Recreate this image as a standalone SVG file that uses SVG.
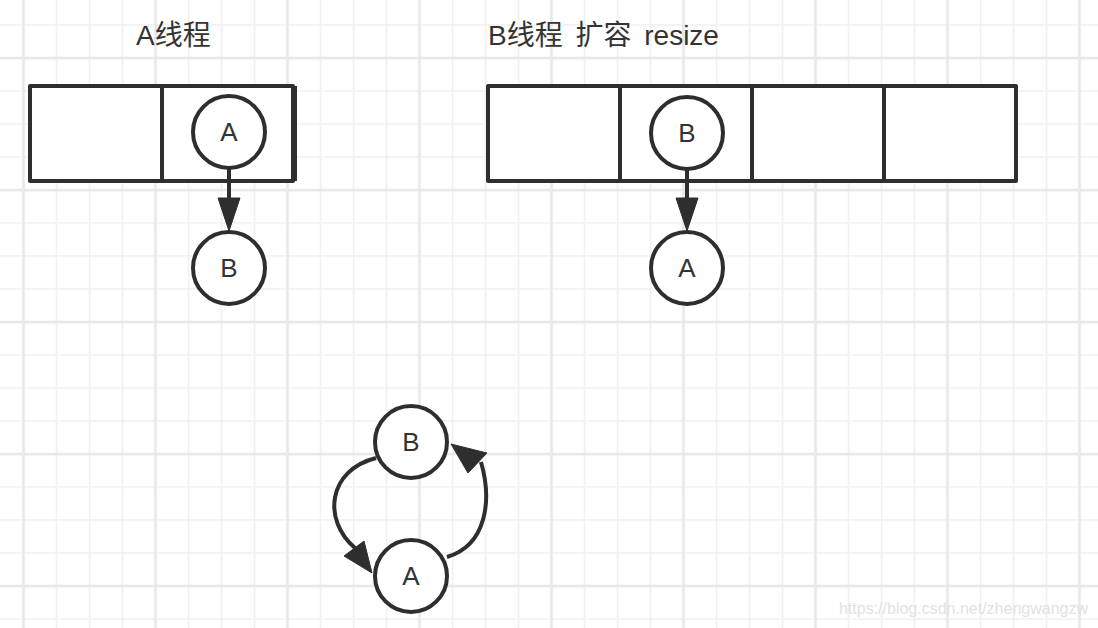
<svg xmlns="http://www.w3.org/2000/svg" width="1098" height="628" viewBox="0 0 1098 628">
  <style>
    .cell { fill: #ffffff; stroke: #2e2e2e; stroke-width: 4; stroke-linejoin: round; }
    .node circle { fill: #ffffff; stroke: #2e2e2e; stroke-width: 4; }
    .lbl { font-family: "Liberation Sans", "Noto Sans CJK SC", sans-serif; font-size: 26px; fill: #333333; text-anchor: middle; }
    .title { font-family: "Liberation Sans", "Noto Sans CJK SC", sans-serif; font-size: 28px; fill: #333333; }
    .edge { fill: none; stroke: #2e2e2e; stroke-width: 4; }
    .head { fill: #2e2e2e; stroke: #2e2e2e; stroke-width: 1; stroke-linejoin: round; }
    .wm { font-family: "Liberation Sans", sans-serif; font-size: 16px; fill: #e2e2e2; text-anchor: end; }
  </style>
  <defs>
    <pattern id="minor" patternUnits="userSpaceOnUse" x="22.75" y="24.25" width="33" height="33">
      <path d="M 0.75 0 V 33 M 0 0.75 H 33" stroke="#efefef" stroke-width="1.5" fill="none"/>
    </pattern>
    <pattern id="major" patternUnits="userSpaceOnUse" x="22.25" y="56.75" width="132" height="132">
      <path d="M 1.25 0 V 132 M 0 1.25 H 132" stroke="#e8e8e8" stroke-width="2.5" fill="none"/>
    </pattern>
  </defs>

  <g id="background">
    <rect x="0" y="0" width="1098" height="628" fill="#ffffff"/>
    <rect x="0" y="0" width="1098" height="628" fill="url(#minor)"/>
    <rect x="0" y="0" width="1098" height="628" fill="url(#major)"/>
  </g>

  <g id="title-a">
    <text class="title" x="136" y="45">A线程</text>
  </g>
  <g id="title-b">
    <text class="title" x="488" y="45" word-spacing="5">B线程 扩容 resize</text>
  </g>

  <g id="table-a">
    <rect class="cell" x="30" y="86" width="132" height="95"/>
    <rect class="cell" x="162" y="86" width="131" height="95"/>
    <line x1="295" y1="86" x2="295" y2="181" stroke="#2e2e2e" stroke-width="4"/>
  </g>

  <g id="table-b">
    <rect class="cell" x="488" y="86" width="132" height="95"/>
    <rect class="cell" x="620" y="86" width="132" height="95"/>
    <rect class="cell" x="752" y="86" width="132" height="95"/>
    <rect class="cell" x="884" y="86" width="132" height="95"/>
  </g>

  <g id="connectors">
    <line class="edge" x1="229" y1="168" x2="229" y2="200"/>
    <polygon class="head" points="218,198 240,198 229,231"/>
    <line class="edge" x1="687" y1="168" x2="687" y2="200"/>
    <polygon class="head" points="676,198 698,198 687,231"/>
    <path class="edge" d="M 376 458 C 328 470, 322 520, 355 548"/>
    <polygon class="head" points="344,556 364,541 372,573"/>
    <path class="edge" d="M 447 557 C 487 545, 492 500, 481 462"/>
    <polygon class="head" points="451,444 487,453 468,473"/>
  </g>

  <g id="node-a1" class="node">
    <circle cx="229" cy="132" r="36"/>
    <text class="lbl" x="229" y="141">A</text>
  </g>
  <g id="node-b1" class="node">
    <circle cx="229" cy="268" r="36"/>
    <text class="lbl" x="229" y="277">B</text>
  </g>
  <g id="node-b2" class="node">
    <circle cx="687" cy="133" r="36"/>
    <text class="lbl" x="687" y="142">B</text>
  </g>
  <g id="node-a2" class="node">
    <circle cx="687" cy="268" r="36"/>
    <text class="lbl" x="687" y="277">A</text>
  </g>
  <g id="node-b3" class="node">
    <circle cx="411" cy="442" r="36"/>
    <text class="lbl" x="411" y="451">B</text>
  </g>
  <g id="node-a3" class="node">
    <circle cx="411" cy="576" r="36"/>
    <text class="lbl" x="411" y="585">A</text>
  </g>

  <g id="watermark">
    <text class="wm" x="1088" y="614">https://blog.csdn.net/zhengwangzw</text>
  </g>
</svg>
